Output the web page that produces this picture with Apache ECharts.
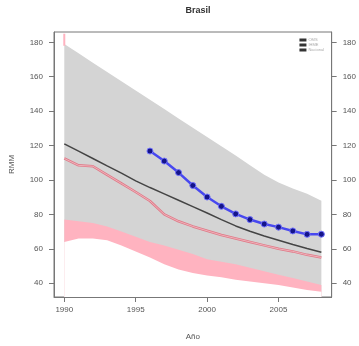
<!DOCTYPE html>
<html><head><meta charset="utf-8">
<script src="https://cdn.jsdelivr.net/npm/echarts@6/dist/echarts.min.js"></script>
<style>html,body{margin:0;padding:0;background:#fff}#c{width:359px;height:346px}</style>
</head><body><div id="c"></div>
<script>
var years = [1990,1991,1992,1993,1994,1995,1996,1997,1998,1999,2000,2001,2002,2003,2004,2005,2006,2007,2008];
var grayTop = [179,173.6,168.2,162.8,157.4,152,146.6,141.2,135.8,130.4,125,119.6,114.2,108.5,103,98.5,95,92,88];
var pinkUpper = [77,76,75,73,70,67,64,62,59.5,57,54,52.5,51,49,47,45,43,41,39];
var pinkLower = [64,66,66,65,62,58.5,55,51,48,46,44.5,43.5,42,41,40,39,37.5,36,35];
var blackLine = [121,116.8,112.5,108.2,104,99.5,95.6,91.9,88.2,84.5,80.8,77,73.3,70.2,67.5,65,62.5,60.2,58];
var redLine = [112.5,108.5,108,103,98,93,87.8,80,76,73,70.5,68,66,64,62,60,58.5,56.5,55];
var blueYears = [1996,1997,1998,1999,2000,2001,2002,2003,2004,2005,2006,2007,2008];
var blueLine = [116.8,111.0,104.3,96.8,90.1,84.7,80.3,77.0,74.4,72.6,70.4,68.4,68.5];
var spike = [[1990,185],[1990,178]];
var xTicks = [1990,1995,2000,2005];
var yTicks = [40,60,80,100,120,140,160,180];
var legendNames = ['OMS','IHME','Nacional'];

function pairs(xs, ys){ return xs.map(function(x,i){return [x, ys[i]];}); }

var font = 'Liberation Sans, Arial, sans-serif';
var txt = '#555';
var fmt = function(v){ return String(v); };
var chart = echarts.init(document.getElementById('c'), null, {renderer:'canvas'});
var yCommon = {
  type:'value', min:32, max:186,
  axisLine:{show:true, lineStyle:{color:'#777'}},
  axisTick:{show:true, length:5, lineStyle:{color:'#777'}, customValues:yTicks},
  axisLabel:{customValues:yTicks, formatter:fmt, fontSize:8, color:txt, fontFamily:font, margin:11},
  splitLine:{show:false}
};
function band(name, ys, color){
  return {name:name, type:'line', data:pairs(years,ys), symbol:'none', silent:true,
    lineStyle:{width:0, opacity:0}, areaStyle:{color:color, opacity:1, origin:'start'}};
}
chart.setOption({
  animation:false,
  title:{text:'Brasil', left:193, top:1, textAlign:'center',
    textStyle:{fontSize:9, fontWeight:'bold', color:'#333', fontFamily:font}},
  legend:{
    orient:'vertical', right:30, top:33, itemWidth:7, itemHeight:3, itemGap:1,
    textStyle:{fontSize:4, color:'#aaa', fontFamily:font, padding:[0,0,0,-3]},
    data:[
      {name:legendNames[0], icon:'rect', itemStyle:{color:'#333'}},
      {name:legendNames[1], icon:'rect', itemStyle:{color:'#333'}},
      {name:legendNames[2], icon:'rect', itemStyle:{color:'#333', borderWidth:0}}
    ]
  },
  grid:{left:54, right:27, top:32, bottom:46, show:true, borderColor:'#777', borderWidth:1, backgroundColor:'transparent'},
  xAxis:{
    type:'value', min:1989.28, max:2008.72,
    name:'Año', nameLocation:'middle', nameGap:36,
    nameTextStyle:{fontSize:8, color:txt, fontFamily:font},
    axisLine:{show:true, lineStyle:{color:'#777'}},
    axisTick:{show:true, length:5, lineStyle:{color:'#777'}, customValues:xTicks},
    axisLabel:{customValues:xTicks, formatter:fmt, fontSize:8, color:txt, fontFamily:font, margin:9},
    splitLine:{show:false}
  },
  yAxis:[
    Object.assign({}, yCommon, {position:'left', name:'RMM', nameLocation:'middle', nameGap:38,
      nameTextStyle:{fontSize:8, color:txt, fontFamily:font}}),
    Object.assign({}, yCommon, {position:'right'})
  ],
  series:[
    band('gray', grayTop, '#d4d4d4'),
    band('pink', pinkUpper, '#ffb3c0'),
    band('white', pinkLower, '#ffffff'),
    {name:'spike', type:'line', data:spike, symbol:'none', lineStyle:{color:'#ffb3c0', width:2}},
    {name:legendNames[0], type:'line', data:pairs(years,blackLine), symbol:'none',
     lineStyle:{color:'#444', width:1.5}},
    {name:legendNames[1], type:'line', data:pairs(years,redLine), symbol:'none',
     lineStyle:{color:'#e07a88', width:2.5}},
    {name:'red2', type:'line', data:pairs(years,redLine), symbol:'none',
     lineStyle:{color:'#f2c0c8', width:0.8}},
    {name:legendNames[2], type:'line', data:pairs(blueYears,blueLine), symbol:'circle', symbolSize:6,
     itemStyle:{color:'#14148a', borderColor:'#7070ff', borderWidth:1},
     lineStyle:{color:'#4848f0', width:2.5}}
  ]
});
</script></body></html>
